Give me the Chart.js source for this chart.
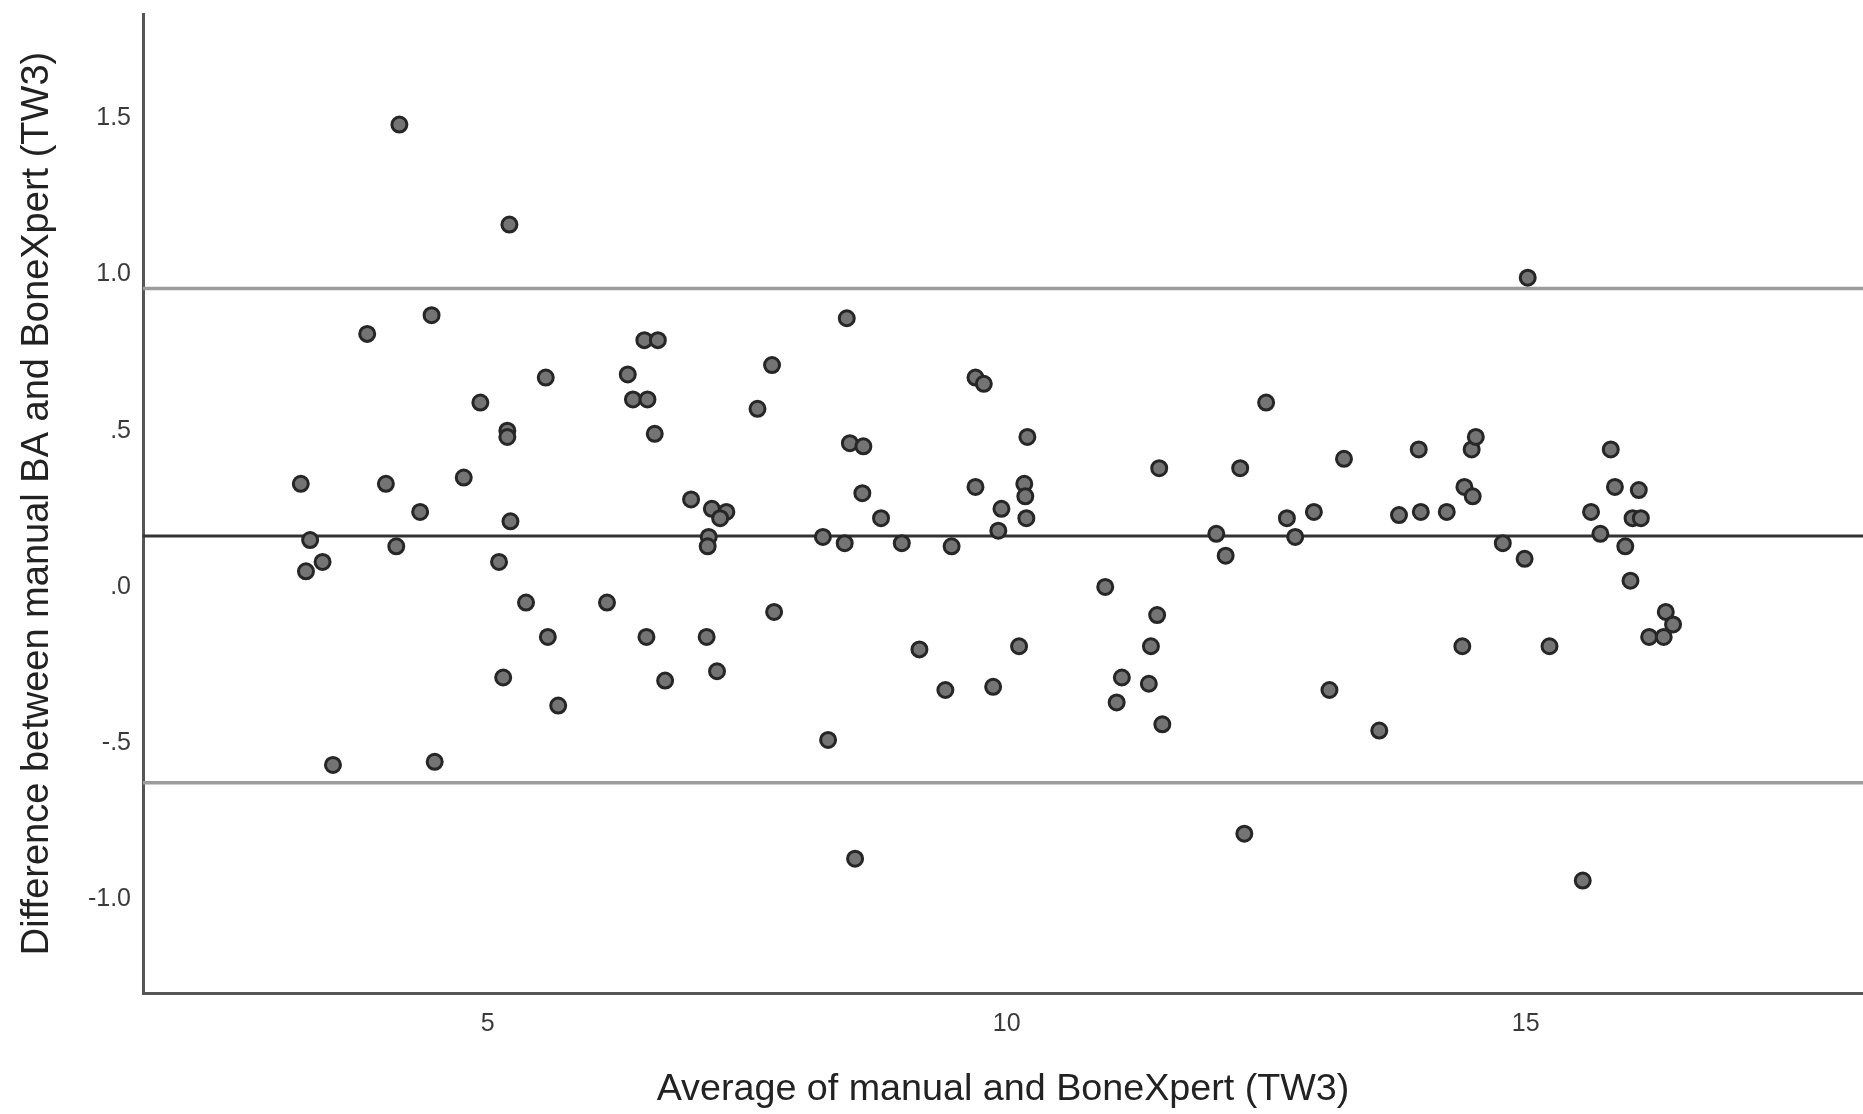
<!DOCTYPE html>
<html>
<head>
<meta charset="utf-8">
<title>Bland-Altman: manual vs BoneXpert (TW3)</title>
<script src="https://cdn.jsdelivr.net/npm/chart.js@4.4.1/dist/chart.umd.min.js"></script>
<style>
  body { margin: 0; background: #fff; }
  canvas { display: block; }
</style>
</head>
<body>
<canvas id="chart" width="1863" height="1114"></canvas>
<script>
// average of the two methods (x) and their difference (y)
const averages = [
  4.15, 5.21, 3.84, 4.46, 4.93, 5.19, 5.19, 5.56, 3.20, 4.02,
  4.77, 4.35, 4.12, 3.29, 3.25, 3.41, 5.22, 5.11, 5.37, 5.58,
  5.15, 5.68, 3.51, 4.49, 6.15, 6.35, 6.40, 6.51, 6.64, 6.54,
  6.61, 6.53, 6.71, 6.96, 7.16, 7.30, 7.24, 7.13, 7.12, 7.11,
  7.21, 7.60, 7.74, 7.76, 8.23, 8.28, 8.46, 8.44, 8.49, 8.62,
  8.61, 8.79, 8.54, 8.99, 9.16, 9.41, 9.47, 9.70, 9.78, 9.70,
  9.95, 9.92, 9.87, 10.12, 10.20, 10.17, 10.18, 10.19, 10.95, 11.06,
  11.11, 11.37, 11.39, 11.45, 11.47, 11.50, 12.02, 12.11, 12.25, 12.29,
  12.50, 12.70, 12.78, 12.96, 13.11, 13.25, 13.59, 13.78, 13.97, 13.99,
  14.24, 14.39, 14.41, 14.49, 14.48, 14.52, 14.78, 14.99, 15.02, 15.23,
  15.55, 15.63, 15.72, 15.82, 15.86, 15.96, 16.01, 16.03, 16.09, 16.11,
  16.19, 16.33, 16.35, 16.42
];
const differences = [
  1.48, 1.16, 0.81, 0.87, 0.59, 0.50, 0.48, 0.67, 0.33, 0.33,
  0.35, 0.24, 0.13, 0.15, 0.05, 0.08, 0.21, 0.08, -0.05, -0.16,
  -0.29, -0.38, -0.57, -0.56, -0.05, 0.68, 0.60, 0.79, 0.79, 0.60,
  0.49, -0.16, -0.30, 0.28, 0.25, 0.24, 0.22, 0.16, 0.13, -0.16,
  -0.27, 0.57, 0.71, -0.08, 0.16, -0.49, 0.86, 0.14, 0.46, 0.45,
  0.30, 0.22, -0.87, 0.14, -0.20, -0.33, 0.13, 0.67, 0.65, 0.32,
  0.25, 0.18, -0.32, -0.19, 0.48, 0.33, 0.29, 0.22, 0.00, -0.37,
  -0.29, -0.31, -0.19, -0.09, 0.38, -0.44, 0.17, 0.10, 0.38, -0.79,
  0.59, 0.22, 0.16, 0.24, -0.33, 0.41, -0.46, 0.23, 0.44, 0.24,
  0.24, -0.19, 0.32, 0.29, 0.44, 0.48, 0.14, 0.09, 0.99, -0.19,
  -0.94, 0.24, 0.17, 0.44, 0.32, 0.13, 0.02, 0.22, 0.31, 0.22,
  -0.16, -0.16, -0.08, -0.12
];

// mean difference and limits of agreement
const meanDiff = 0.163;
const upperLimit = 0.955;
const lowerLimit = -0.627;

const xTicks = [5, 10, 15];
const yTicks = [-1.0, -0.5, 0, 0.5, 1.0, 1.5];
const yTickLabels = ['-1.0', '-.5', '.0', '.5', '1.0', '1.5'];

const xMin = 1.68, xMax = 18.25;
const yMin = -1.30, yMax = 1.834;

Chart.defaults.font.family = "'Liberation Sans', Arial, sans-serif";

function refLine(y, color, width) {
  return {
    type: 'line',
    data: [{ x: xMin, y: y }, { x: xMax, y: y }],
    borderColor: color,
    borderWidth: width,
    pointRadius: 0,
    fill: false,
    order: 2
  };
}

// stop chart.js from reserving room for half tick labels at the ends
function noEdgePadding(scale) {
  scale.paddingTop = 0;
  scale.paddingBottom = 0;
  scale.paddingLeft = 0;
  scale.paddingRight = 0;
}

const ctx = document.getElementById('chart').getContext('2d');
new Chart(ctx, {
  type: 'scatter',
  data: {
    datasets: [
      {
        data: averages.map((x, i) => ({ x: x, y: differences[i] })),
        backgroundColor: '#747474',
        borderColor: '#262626',
        borderWidth: 3,
        pointRadius: 7.5,
        order: 0
      },
      refLine(upperLimit, '#9c9c9c', 3.5),
      refLine(meanDiff, '#333333', 3),
      refLine(lowerLimit, '#9c9c9c', 3.5)
    ]
  },
  options: {
    responsive: false,
    animation: false,
    layout: { autoPadding: false, padding: { top: 14, right: 0, bottom: 0, left: 0 } },
    plugins: {
      legend: { display: false },
      tooltip: { enabled: false }
    },
    scales: {
      x: {
        type: 'linear',
        min: xMin,
        max: xMax,
        afterBuildTicks: (scale) => { scale.ticks = xTicks.map(v => ({ value: v })); },
        afterFit: (scale) => { scale.height = 121; noEdgePadding(scale); },
        grid: { display: false, drawTicks: false },
        border: { display: true, color: '#555555', width: 3 },
        ticks: { padding: 16, color: '#3a3a3a', font: { size: 25 } },
        title: {
          display: true,
          text: 'Average of manual and BoneXpert (TW3)',
          color: '#222222',
          font: { size: 37.7 },
          padding: { top: 0, bottom: 2 }
        }
      },
      y: {
        type: 'linear',
        min: yMin,
        max: yMax,
        afterBuildTicks: (scale) => { scale.ticks = yTicks.map(v => ({ value: v })); },
        afterFit: (scale) => { scale.width = 143; noEdgePadding(scale); },
        grid: { display: false, drawTicks: false },
        border: { display: true, color: '#555555', width: 3 },
        ticks: {
          padding: 12,
          color: '#3a3a3a',
          font: { size: 25 },
          callback: (value) => yTickLabels[yTicks.indexOf(value)]
        },
        title: {
          display: true,
          text: 'Difference between manual BA and BoneXpert (TW3)',
          color: '#222222',
          font: { size: 38 },
          padding: { top: 15, bottom: 0 }
        }
      }
    }
  }
});
</script>
</body>
</html>
